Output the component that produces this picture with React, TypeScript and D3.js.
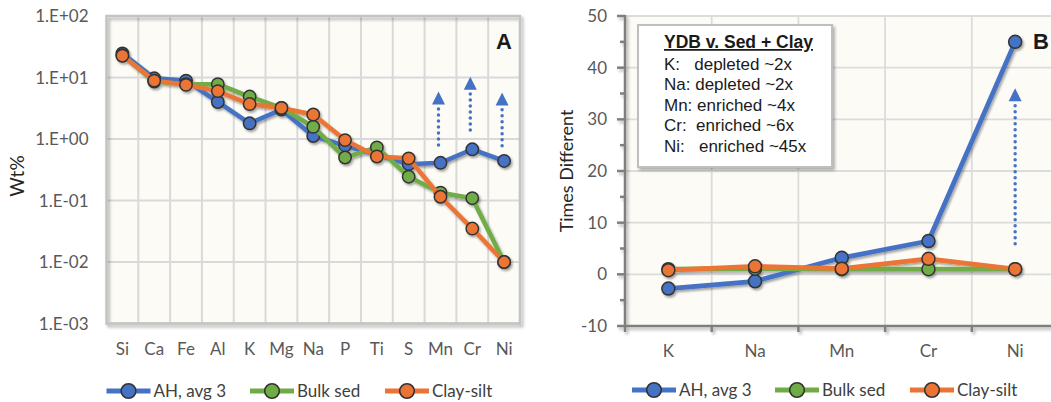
import { scaleBand, scaleLinear, scaleLog, line } from "d3";

// panel A: element concentrations (wt%)
const elementsA = ["Si", "Ca", "Fe", "Al", "K", "Mg", "Na", "P", "Ti", "S", "Mn", "Cr", "Ni"];
const ahA = [24.7, 9.7, 8.9, 4.0, 1.8, 3.0, 1.12, 0.78, 0.55, 0.39, 0.41, 0.68, 0.44];
const bulkA = [23, 8.6, 7.8, 7.8, 4.9, 3.2, 1.58, 0.5, 0.73, 0.244, 0.134, 0.109, 0.01];
const clayA = [22.6, 8.9, 7.6, 6.0, 3.7, 3.2, 2.5, 0.96, 0.52, 0.485, 0.115, 0.035, 0.01];
const yTicksA = [1e-3, 1e-2, 1e-1, 1, 10, 100];
const arrowCatsA = ["Mn", "Cr", "Ni"];
const arrowFromA = [0.8, 1.4, 0.78];
const arrowToA = [5.9, 10.3, 5.7];

// panel B: times different
const elementsB = ["K", "Na", "Mn", "Cr", "Ni"];
const ahB = [-2.75, -1.35, 3.2, 6.45, 45];
const bulkB = [1.0, 1.1, 1.0, 1.0, 1.0];
const clayB = [0.8, 1.55, 1.1, 3.0, 1.0];
const yTicksB = [-10, 0, 10, 20, 30, 40, 50];
const yMinorB = [-5, 5, 15, 25, 35, 45];
const arrowCatsB = ["Ni"];
const arrowFromB = [5.9];
const arrowToB = [36];

const seriesNames = ["AH, avg 3", "Bulk sed", "Clay-silt"];
const colors = ["#4472c4", "#6fac46", "#eb7435"];
const boxTitle = "YDB v. Sed + Clay";
const boxLines = ["K:   depleted ~2x", "Na: depleted ~2x", "Mn: enriched ~4x", "Cr:  enriched ~6x", "Ni:   enriched ~45x"];

const FONT = "Lato, 'Open Sans', sans-serif";
const ARIAL = "'Liberation Sans', Arial, sans-serif";

function expLabel(v: number) {
  const e = Math.round(Math.log10(v));
  return `1.E${e < 0 ? "-" : "+"}${String(Math.abs(e)).padStart(2, "0")}`;
}

function Arrow({ x, y0, y1, color }: { x: number; y0: number; y1: number; color: string }) {
  const head = 13;
  return (
    <g>
      <line x1={x} x2={x} y1={y0} y2={y1 + head + 3} stroke={color} strokeWidth={3.5}
        strokeDasharray="0 6" strokeLinecap="round" />
      <path d={`M${x},${y1} L${x - 6.5},${y1 + head} L${x + 6.5},${y1 + head} Z`} fill={color} />
    </g>
  );
}

function Legend({ xs, y }: { xs: number[]; y: number }) {
  return (
    <g>
      {seriesNames.map((n, i) => (
        <g key={n}>
          <line x1={xs[i]} x2={xs[i] + 44} y1={y} y2={y} stroke={colors[i]} strokeWidth={5} />
          <circle cx={xs[i] + 22} cy={y} r={7.3} fill={colors[i]} stroke="#333" strokeWidth={1.6} />
          <text x={xs[i] + 47} y={y + 6} fontSize={17} fill="#404040" fontFamily={FONT}>{n}</text>
        </g>
      ))}
    </g>
  );
}

function PanelA() {
  const x = scaleBand<string>().domain(elementsA).range([106.5, 520]);
  const bw = x.bandwidth();
  const cx = (c: string) => (x(c) ?? 0) + bw / 2;
  const y = scaleLog().domain([1e-3, 1e2]).range([323.5, 16]);
  const gen = line<number>().x((_, i) => cx(elementsA[i])).y((d) => y(d));
  const series = [ahA, bulkA, clayA];
  const bounds = [...elementsA.map((c) => x(c) ?? 0), 520];
  return (
    <g>
      <rect x={106.5} y={16} width={413.5} height={307.5} fill="#fcfbf6" />
      {bounds.slice(1, -1).map((b, i) => (
        <line key={i} x1={b} x2={b} y1={16} y2={323.5} stroke="#d9d9d9" strokeWidth={2} />
      ))}
      {yTicksA.map((t) => (
        <line key={t} x1={106.5} x2={520} y1={y(t)} y2={y(t)} stroke="#d9d9d9" strokeWidth={2} />
      ))}
      <rect x={106.5} y={16} width={413.5} height={307.5} fill="none" stroke="#c3c3c3"
        strokeWidth={2.5} filter="url(#shFrame)" />
      {yTicksA.map((t) => (
        <text key={t} x={88.5} y={y(t) + 6} textAnchor="end" fontSize={17} fill="#595959" fontFamily={FONT}>
          {expLabel(t)}
        </text>
      ))}
      {elementsA.map((c) => (
        <text key={c} x={cx(c)} y={355} textAnchor="middle" fontSize={17} fill="#595959" fontFamily={FONT}>
          {c}
        </text>
      ))}
      <text transform="translate(24,176) rotate(-90)" textAnchor="middle" fontSize={19} fill="#262626"
        fontFamily={FONT}>Wt%</text>
      <g filter="url(#shLine)">
        {series.map((s, i) => (
          <g key={i}>
            <path d={gen(s) ?? ""} fill="none" stroke={colors[i]} strokeWidth={4.5} strokeLinejoin="round" />
            {s.map((v, j) => (
              <circle key={j} cx={cx(elementsA[j])} cy={y(v)} r={6.2} fill={colors[i]} stroke="#333"
                strokeWidth={1.5} />
            ))}
          </g>
        ))}
      </g>
      {arrowCatsA.map((c, i) => (
        <Arrow key={c} x={cx(c) - 2} y0={y(arrowFromA[i])} y1={y(arrowToA[i])} color="#4472c4" />
      ))}
      <text x={504} y={49} textAnchor="middle" fontSize={22} fontWeight="bold" fill="#1a1a1a"
        fontFamily={ARIAL}>A</text>
      <Legend xs={[106.5, 250, 385]} y={391} />
    </g>
  );
}

function PanelB() {
  const x = scaleBand<string>().domain(elementsB).range([625, 1058.5]);
  const bw = x.bandwidth();
  const cx = (c: string) => (x(c) ?? 0) + bw / 2;
  const y = scaleLinear().domain([-10, 50]).range([326, 16]);
  const gen = line<number>().x((_, i) => cx(elementsB[i])).y((d) => y(d));
  const series = [ahB, bulkB, clayB];
  const bounds = [...elementsB.map((c) => x(c) ?? 0), 1058.5];
  return (
    <g>
      <rect x={625} y={16} width={433.5} height={310} fill="#fcfbf6" />
      {bounds.slice(1).map((b, i) => (
        <line key={i} x1={b} x2={b} y1={16} y2={326} stroke="#dcdcdc" strokeWidth={1.8} />
      ))}
      {yTicksB.map((t) => (
        <line key={t} x1={625} x2={1058.5} y1={y(t)} y2={y(t)} stroke="#dcdcdc" strokeWidth={1.8} />
      ))}
      <g filter="url(#shFrame)" stroke="#7f7f7f" strokeWidth={2.5}>
        <line x1={625} x2={625} y1={15} y2={327} />
        <line x1={624} x2={1058.5} y1={326} y2={326} />
        {yTicksB.map((t) => (
          <line key={t} x1={617} x2={625} y1={y(t)} y2={y(t)} />
        ))}
        {yMinorB.map((t) => (
          <line key={t} x1={620} x2={625} y1={y(t)} y2={y(t)} />
        ))}
        {bounds.map((b, i) => (
          <line key={i} x1={b} x2={b} y1={326} y2={332} />
        ))}
      </g>
      {yTicksB.map((t) => (
        <text key={t} x={607} y={y(t) + 6} textAnchor="end" fontSize={17} fill="#595959" fontFamily={FONT}>
          {t}
        </text>
      ))}
      {elementsB.map((c) => (
        <text key={c} x={cx(c)} y={357} textAnchor="middle" fontSize={17} fill="#595959" fontFamily={FONT}>
          {c}
        </text>
      ))}
      <text transform="translate(573,171) rotate(-90)" textAnchor="middle" fontSize={18} fill="#262626"
        fontFamily={FONT}>Times Different</text>
      <g filter="url(#shLine)">
        {series.map((s, i) => (
          <g key={i}>
            <path d={gen(s) ?? ""} fill="none" stroke={colors[i]} strokeWidth={4.8} strokeLinejoin="round" />
            {s.map((v, j) => (
              <circle key={j} cx={cx(elementsB[j])} cy={y(v)} r={6.5} fill={colors[i]} stroke="#333"
                strokeWidth={1.5} />
            ))}
          </g>
        ))}
      </g>
      {arrowCatsB.map((c, i) => (
        <Arrow key={c} x={cx(c)} y0={y(arrowFromB[i])} y1={y(arrowToB[i])} color="#4472c4" />
      ))}
      <rect x={638} y={25} width={194} height={142} fill="#ffffff" stroke="#bfbfbf" strokeWidth={2}
        filter="url(#shFrame)" />
      <text x={664} y={48} fontSize={17.5} fontWeight="bold" fill="#1a1a1a" fontFamily={ARIAL}
        textDecoration="underline">{boxTitle}</text>
      {boxLines.map((l, i) => (
        <text key={i} x={664} y={69.5 + i * 20.6} fontSize={17} fill="#1a1a1a" fontFamily={ARIAL}
          style={{ whiteSpace: "pre" }}>{l}</text>
      ))}
      <text x={1033} y={49} fontSize={22} fontWeight="bold" fill="#1a1a1a" fontFamily={ARIAL}>B</text>
      <Legend xs={[632, 775, 910]} y={390} />
    </g>
  );
}

export default function App() {
  return (
    <svg width={1051} height={402} style={{ position: "absolute", left: 0, top: 0, background: "#fff" }}>
      <defs>
        <filter id="shFrame" x="-5%" y="-5%" width="115%" height="115%">
          <feDropShadow dx="2" dy="2.5" stdDeviation="1.5" floodColor="#000" floodOpacity="0.3" />
        </filter>
        <filter id="shLine" x="-5%" y="-5%" width="115%" height="115%">
          <feDropShadow dx="1.5" dy="2" stdDeviation="1.3" floodColor="#000" floodOpacity="0.35" />
        </filter>
      </defs>
      <PanelA />
      <PanelB />
    </svg>
  );
}
